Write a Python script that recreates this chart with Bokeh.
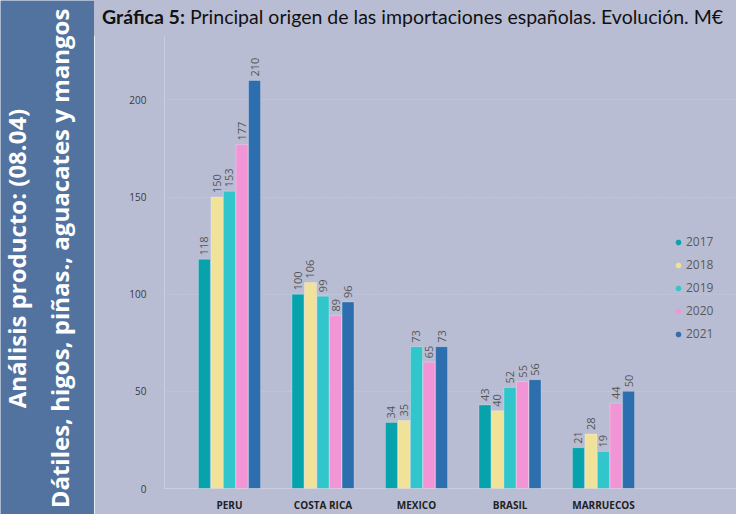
from bokeh.plotting import figure
from bokeh.layouts import row, column
from bokeh.models import (ColumnDataSource, Range1d, LabelSet, Legend, LegendItem, FixedTicker, Div)
from bokeh.transform import dodge
from bokeh.core.properties import value
from bokeh.embed import file_html
from bokeh.resources import INLINE
import math

countries = ["PERU", "COSTA RICA", "MEXICO", "BRASIL", "MARRUECOS"]
years = ["2017", "2018", "2019", "2020", "2021"]
v2017 = [118, 100, 34, 43, 21]
v2018 = [150, 106, 35, 40, 28]
v2019 = [153, 99, 73, 52, 19]
v2020 = [177, 89, 65, 55, 44]
v2021 = [210, 96, 73, 56, 50]
series = [v2017, v2018, v2019, v2020, v2021]
colors = ["#07a3ad", "#f1e299", "#31c5cc", "#f195d6", "#2d6fae"]
y_ticks = [0, 50, 100, 150, 200]

title_bold = "Gráfica 5:"
title_rest = "Principal origen de las importaciones españolas. Evolución. M€"
side_lines = ["Análisis producto: (08.04)", "Dátiles, higos, piñas., aguacates y mangos"]

BG = "#b9bdd4"
SIDE = "#5272a0"
TOTAL_W, TOTAL_H = 736, 514
SIDE_W = 94
MAIN_W = TOTAL_W - SIDE_W
TITLE_H = 36
MAIN_H = TOTAL_H - TITLE_H + 2

# ---------- sidebar ----------
side = figure(width=SIDE_W, height=TOTAL_H, x_range=Range1d(0, SIDE_W), y_range=Range1d(0, TOTAL_H),
              output_backend="svg", toolbar_location=None, min_border=0,
              background_fill_color=SIDE, border_fill_color=SIDE, outline_line_color=None)
side.axis.visible = False
side.grid.visible = False
side.text(x=[16, 59], y=[TOTAL_H - 258, TOTAL_H - 258], text=side_lines, angle=math.pi / 2,
          text_align="center", text_baseline="middle", text_font=value("Open Sans"),
          text_font_style="bold", text_font_size="24px", text_color="white")

# ---------- title ----------
title = Div(text=f"<b>{title_bold}</b>&nbsp;{title_rest}", width=MAIN_W, height=TITLE_H,
            styles={"background-color": BG, "font-family": "Lato", "font-size": "19.5px",
                    "color": "#111111", "padding-left": "8px", "padding-top": "3px",
                    "box-sizing": "border-box", "white-space": "nowrap", "margin": "0",
                    "margin-bottom": "-2px", "height": f"{TITLE_H + 2}px", "overflow": "hidden"})

# ---------- main chart ----------
px_per_cat = 93.5
first_center = 135.0
frame_left = 70
x0 = -(first_center - frame_left) / px_per_cat
x1 = (MAIN_W - first_center) / px_per_cat
bottom_panel = 22
frame_h = MAIN_H - bottom_panel
y_top = frame_h / 1.96

p = figure(width=MAIN_W, height=MAIN_H, x_range=Range1d(x0, x1), y_range=Range1d(0, y_top),
           output_backend="svg", toolbar_location=None,
           min_border_left=frame_left, min_border_right=0, min_border_top=0, min_border_bottom=bottom_panel,
           background_fill_color=BG, border_fill_color=BG, outline_line_color=None)

data = {"pos": list(range(len(countries))), "country": countries}
for yr, s in zip(years, series):
    data["v" + yr] = s
    data["t" + yr] = [str(x) for x in s]
src = ColumnDataSource(data)

offsets = [-0.268, -0.134, 0.0, 0.134, 0.268]
items = []
for yr, c, off in zip(years, colors, offsets):
    p.vbar(x=dodge("pos", off), top="v" + yr, width=0.128, source=src,
           fill_color=c, line_color="#ffffff", line_alpha=0.25, line_width=1)
    p.add_layout(LabelSet(x=dodge("pos", off), y="v" + yr, text="t" + yr, source=src,
                          angle=math.pi / 2, text_align="left", text_baseline="middle",
                          y_offset=4, text_font=value("Open Sans"), text_font_size="11px",
                          text_color="#555555"))
    r = p.scatter(x=dodge("pos", off), y="v" + yr, source=src, marker="circle", size=10,
                  fill_color=c, line_color=c, visible=False)
    items.append(LegendItem(label=yr, renderers=[r]))

leg = Legend(items=items, location=(508, 145), background_fill_alpha=0,
             border_line_color=None, label_text_font="Open Sans",
             label_text_font_size="12px", label_text_color="#5a5a5a",
             glyph_width=12, glyph_height=12, label_height=19, spacing=4,
             label_standoff=2, padding=0, margin=0, inactive_fill_alpha=0)
p.add_layout(leg, "center")

p.yaxis.ticker = FixedTicker(ticks=y_ticks)
p.yaxis.axis_line_color = None
p.yaxis.major_tick_line_color = None
p.yaxis.minor_tick_line_color = None
p.yaxis.major_label_standoff = 12
p.yaxis.major_label_text_font = "Open Sans"
p.yaxis.major_label_text_font_size = "10px"
p.yaxis.major_label_text_color = "#3a3a3a"

p.xaxis.ticker = FixedTicker(ticks=data["pos"])
p.xaxis.major_label_overrides = {i: c for i, c in zip(data["pos"], countries)}
p.xaxis.axis_line_color = None
p.xaxis.major_tick_line_color = None
p.xaxis.minor_tick_line_color = None
p.xaxis.major_label_standoff = 3
p.xaxis.major_label_text_font = "Open Sans"
p.xaxis.major_label_text_font_style = "bold"
p.xaxis.major_label_text_font_size = "10px"
p.xaxis.major_label_text_color = "#222222"

p.xgrid.grid_line_color = None
p.ygrid.grid_line_color = "#c9cce0"
p.ygrid.grid_line_dash = "1 2"

layout = row(side, column(title, p, spacing=0), spacing=0)
open("out.html", "w").write(file_html(layout, INLINE))
